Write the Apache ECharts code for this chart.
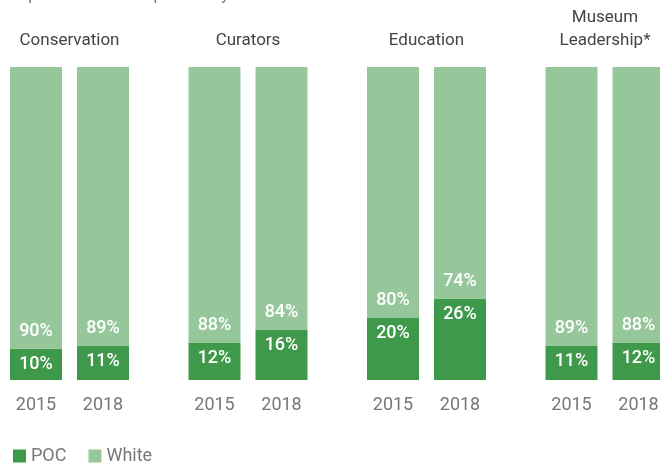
<!DOCTYPE html>
<html><head><meta charset="utf-8">
<script src="https://cdn.jsdelivr.net/npm/echarts@6/dist/echarts.min.js"></script>
<style>html,body{margin:0;padding:0;background:#fff;overflow:hidden}#c{width:680px;height:465px}</style>
</head><body><div id="c"></div>
<script>
const categories = ['Conservation','Curators','Education','Museum\nLeadership*'];
const years = ['2015','2018'];
const poc = [[10,11],[12,16],[20,26],[11,12]];
const white = [[90,89],[88,84],[80,74],[89,88]];

const FONT = 'Roboto';
const POC_C = '#3e994b', WHITE_C = '#96c79b';
const gridLeft0 = 2.5, groupStep = 178.5, gridW = 134;

const grids = [], xAxes = [], yAxes = [], series = [], graphics = [];
categories.forEach((cat, i) => {
  const left = gridLeft0 + groupStep * i;
  grids.push({left: left, width: gridW, top: 67, height: 313});
  xAxes.push({type:'category', gridIndex:i, data:years,
    axisLine:{show:false}, axisTick:{show:false},
    axisLabel:{color:'#777', fontSize:18, fontFamily:FONT, margin:16}});
  yAxes.push({type:'value', gridIndex:i, min:0, max:100, show:false});
  series.push({name:'POC', type:'bar', stack:'s'+i, xAxisIndex:i, yAxisIndex:i,
    data:poc[i], barWidth:52, itemStyle:{color:POC_C},
    label:{show:true, position:'insideTop', distance:7, formatter:'{c}%',
      color:'#fff', fontSize:18, fontWeight:500, fontFamily:FONT}});
  series.push({name:'White', type:'bar', stack:'s'+i, xAxisIndex:i, yAxisIndex:i,
    data:white[i], barWidth:52, itemStyle:{color:WHITE_C},
    label:{show:true, position:'insideBottom', distance:8, formatter:'{c}%',
      color:'#fff', fontSize:18, fontWeight:500, fontFamily:FONT}});
  graphics.push({type:'text', x: left + gridW/2, y: 52,
    style:{text:cat, fill:'#444', font:'17px ' + FONT, textAlign:'center',
      textVerticalAlign:'bottom', lineHeight:23}});
});
graphics.push({type:'text', x:10, y:-12,
  style:{text:'Repeat Panel Participants Only', fill:'#777', font:'16px ' + FONT,
    textVerticalAlign:'top'}});

const chart = echarts.init(document.getElementById('c'));
chart.setOption({
  animation:false,
  grid:grids, xAxis:xAxes, yAxis:yAxes, series:series, graphic:graphics,
  legend:{left:8, top:442, icon:'rect', itemWidth:13, itemHeight:13, itemGap:22,
    data:['POC','White'], textStyle:{color:'#777', fontSize:18, fontFamily:FONT}}
});
</script></body></html>
